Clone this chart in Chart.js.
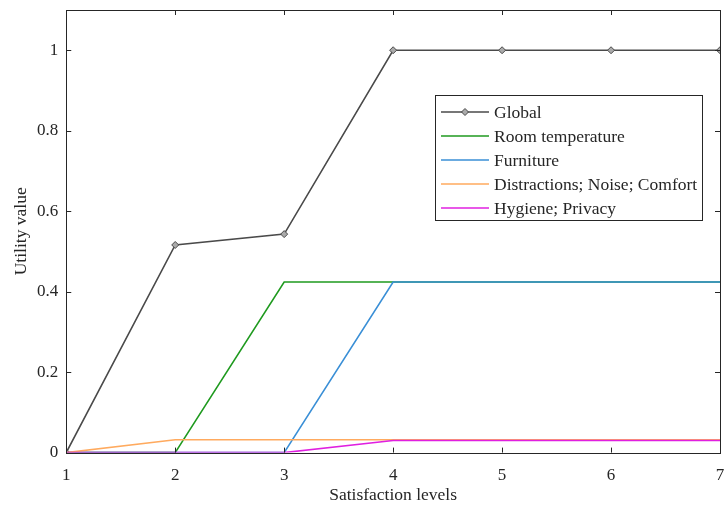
<!DOCTYPE html>
<html>
<head>
<meta charset="utf-8">
<script src="https://cdn.jsdelivr.net/npm/chart.js@4.4.0/dist/chart.umd.min.js"></script>
<style>
  html, body { margin: 0; padding: 0; background: #fff; }
  #wrap { width: 725px; height: 511px; }
</style>
</head>
<body>
<div id="wrap"><canvas id="utilChart" width="725" height="511"></canvas></div>
<script>
// satisfaction levels on the x axis
const levels = [1, 2, 3, 4, 5, 6, 7];
// utility values per criterion
const globalUtil   = [0, 0.516, 0.543, 1, 1, 1, 1];
const roomTemp     = [0, 0, 0.424, 0.424, 0.424, 0.424, 0.424];
const furniture    = [0, 0, 0, 0.424, 0.424, 0.424, 0.424];
const distractions = [0, 0.032, 0.032, 0.032, 0.032, 0.032, 0.032];
const hygiene      = [0, 0, 0, 0.03, 0.03, 0.03, 0.03];
const seriesNames  = ['Global', 'Room temperature', 'Furniture', 'Distractions; Noise; Comfort', 'Hygiene; Privacy'];
const xTicks = [1, 2, 3, 4, 5, 6, 7];
const yTicks = [0, 0.2, 0.4, 0.6, 0.8, 1];

const FONT = '"Liberation Serif", "DejaVu Serif", serif';
const colors = ['#4a4a4a', '#1f9a1f', '#3a8fd6', '#ffaa5e', '#e020e0'];

function toPoints(vals) {
    return levels.map((lv, i) => ({ x: lv, y: vals[i] }));
}

/**
 * 盒子边框、朝内刻度、图例
 */
const boxPlugin = {
    id: 'boxPlugin',
    afterDatasetsDraw(chart) {
        const ctx = chart.ctx;
        const a = chart.chartArea;
        const xs = chart.scales.x, ys = chart.scales.y;
        const tl = 5;
        ctx.save();
        ctx.strokeStyle = '#262626';
        ctx.lineWidth = 1;
        ctx.beginPath();
        xTicks.forEach(v => {
            const px = Math.round(xs.getPixelForValue(v)) + 0.5;
            ctx.moveTo(px, a.bottom); ctx.lineTo(px, a.bottom - tl);
            ctx.moveTo(px, a.top); ctx.lineTo(px, a.top + tl);
        });
        yTicks.forEach(v => {
            const py = Math.round(ys.getPixelForValue(v)) + 0.5;
            ctx.moveTo(a.left, py); ctx.lineTo(a.left + tl, py);
            ctx.moveTo(a.right, py); ctx.lineTo(a.right - tl, py);
        });
        ctx.stroke();
        ctx.strokeRect(Math.round(a.left) + 0.5, Math.round(a.top) + 0.5,
            Math.round(a.right - a.left), Math.round(a.bottom - a.top));

        // 图例
        ctx.font = '17.5px ' + FONT;
        const labels = chart.data.datasets.map(d => d.label);
        const maxW = Math.max(...labels.map(t => ctx.measureText(t).width));
        const boxW = Math.round(59 + maxW + 5);
        const boxR = Math.round(a.right - 18);
        const boxL = boxR - boxW;
        const boxT = Math.round(a.top + 85);
        const rowH = 24;
        const boxH = rowH * labels.length + 5;
        ctx.fillStyle = '#fff';
        ctx.fillRect(boxL, boxT, boxW, boxH);
        ctx.strokeStyle = '#262626';
        ctx.strokeRect(boxL + 0.5, boxT + 0.5, boxW, boxH);
        chart.data.datasets.forEach((ds, i) => {
            const y = boxT + 17 + i * rowH;
            ctx.strokeStyle = ds.borderColor;
            ctx.lineWidth = 1.5;
            ctx.beginPath();
            ctx.moveTo(boxL + 6, y); ctx.lineTo(boxL + 54, y);
            ctx.stroke();
            if (ds.pointRadius > 0) {
                const mx = boxL + 30, r = 3.5;
                ctx.beginPath();
                ctx.moveTo(mx, y - r); ctx.lineTo(mx + r, y); ctx.lineTo(mx, y + r); ctx.lineTo(mx - r, y);
                ctx.closePath();
                ctx.fillStyle = '#aaa';
                ctx.fill();
                ctx.lineWidth = 1;
                ctx.stroke();
            }
            ctx.fillStyle = '#262626';
            ctx.textBaseline = 'middle';
            ctx.fillText(ds.label, boxL + 59, y + 1);
        });
        ctx.restore();
    }
};

const seriesVals = [globalUtil, roomTemp, furniture, distractions, hygiene];
const datasets = seriesVals.map((vals, i) => ({
    label: seriesNames[i],
    data: toPoints(vals),
    borderColor: colors[i],
    backgroundColor: colors[i],
    borderWidth: 1.6,
    pointRadius: i === 0 ? 3.5 : 0,
    pointStyle: 'rectRot',
    pointBackgroundColor: '#aaa',
    pointBorderColor: colors[0],
    pointBorderWidth: 1,
    tension: 0,
    order: 5 - i
}));

new Chart(document.getElementById('utilChart'), {
    type: 'line',
    data: { datasets: datasets },
    options: {
        responsive: false,
        animation: false,
        layout: { padding: { top: 10, right: 5, left: 11, bottom: 0 } },
        plugins: {
            legend: { display: false },
            tooltip: { enabled: false }
        },
        scales: {
            x: {
                type: 'linear',
                min: 1,
                max: 7,
                afterBuildTicks: s => { s.ticks = xTicks.map(v => ({ value: v })); },
                afterFit: s => { s.paddingLeft = 0; s.paddingRight = 0; },
                grid: { display: false, drawTicks: false },
                border: { display: false },
                ticks: {
                    padding: 13,
                    color: '#262626',
                    font: { family: FONT, size: 17 },
                    callback: v => String(v)
                },
                title: {
                    display: true,
                    text: 'Satisfaction levels',
                    color: '#262626',
                    font: { family: FONT, size: 17.5 },
                    padding: { top: -14, bottom: 5 }
                }
            },
            y: {
                min: 0,
                max: 1.1,
                afterBuildTicks: s => { s.ticks = yTicks.map(v => ({ value: v })); },
                afterFit: s => { s.paddingTop = 0; s.paddingBottom = 0; },
                grid: { display: false, drawTicks: false },
                border: { display: false },
                ticks: {
                    padding: 8,
                    color: '#262626',
                    font: { family: FONT, size: 17 },
                    callback: v => String(v)
                },
                title: {
                    display: true,
                    text: 'Utility value',
                    color: '#262626',
                    font: { family: FONT, size: 17.5 },
                    padding: { top: 0, bottom: -3 }
                }
            }
        }
    },
    plugins: [boxPlugin]
});
</script>
</body>
</html>
